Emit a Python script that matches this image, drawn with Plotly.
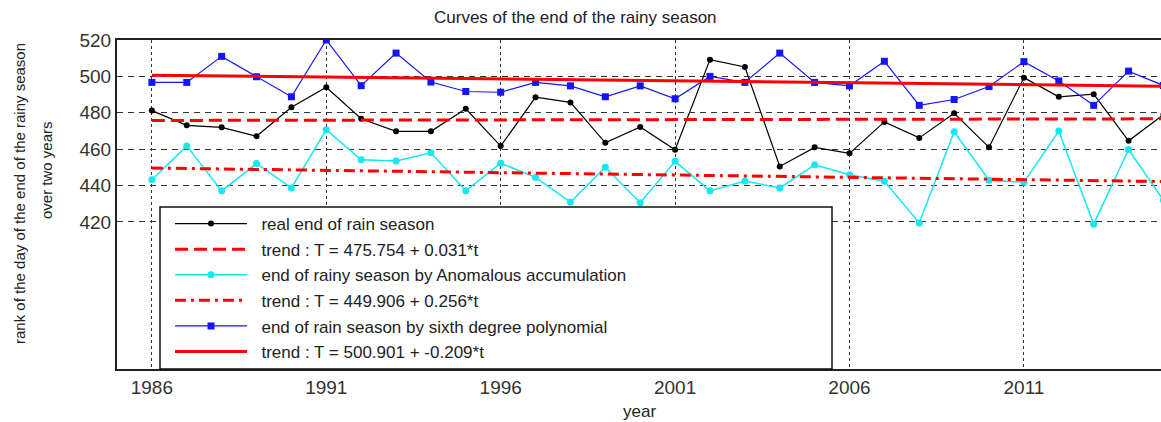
import numpy as np
import plotly.graph_objects as go

# --- data -----------------------------------------------------------------
years = list(range(1986, 2016))

real_end = [481.2, 473.1, 472.0, 467.1, 483.0, 494.0, 476.7, 469.8, 469.8, 482.2,
            461.7, 488.6, 485.7, 463.5, 472.2, 459.7, 509.2, 505.2, 450.5, 461.0,
            457.7, 475.0, 466.2, 479.7, 461.0, 499.3, 488.8, 490.2, 464.6, 479.0]

anomalous_end = [443.2, 461.8, 437.1, 452.1, 438.7, 470.7, 454.2, 453.5, 458.0, 437.1,
                 452.3, 444.5, 430.9, 450.1, 430.6, 453.3, 437.1, 442.5, 438.7, 451.4,
                 446.0, 442.4, 419.5, 469.6, 442.9, 441.8, 470.0, 418.8, 459.8, 432.0]

poly_end = [496.7, 496.7, 511.0, 499.8, 488.8, 520.0, 494.9, 512.8, 496.9, 491.7,
            491.3, 496.7, 494.8, 488.8, 494.8, 487.7, 500.0, 496.7, 512.8, 496.7,
            494.8, 508.3, 484.1, 487.3, 494.4, 508.1, 497.5, 484.1, 502.9, 495.0]

series_names = ["real end of rain season",
                "end of rainy season by Anomalous accumulation",
                "end of rain season by sixth degree polynomial"]

# linear trends T = a + b*t, with t = 1 for the first year
trend_intercept = [475.754, 449.906, 500.901]
trend_slope = [0.031, -0.256, -0.209]
trend_labels = ["trend : T = 475.754 + 0.031*t",
                "trend : T = 449.906 + 0.256*t",
                "trend : T = 500.901 + -0.209*t"]

x_tick_vals = [1986, 1991, 1996, 2001, 2006, 2011]
y_tick_vals = [420, 440, 460, 480, 500, 520]

# --- styling --------------------------------------------------------------
FONT = "Liberation Sans, Arial, sans-serif"
series_colors = ["#000000", "#14E8F0", "#1414FF"]
series_symbols = ["circle", "circle", "square"]
series_msize = [6, 7, 7]
series_lwidth = [1.2, 1.5, 1.2]
trend_dash = ["13px,6px", "11px,5px,3px,5px", "solid"]
LEGEND_PAD = "\u00a0\u00a0"  # small gap between legend sample and text

W, H = 1161, 422
ML, MR, MT, MB = 117, 0, 40, 53
PW, PH = W - ML - MR, H - MT - MB

fig = go.Figure()

t = np.arange(1, len(years) + 1)
for i in range(3):
    fig.add_trace(go.Scatter(
        x=years, y=[real_end, anomalous_end, poly_end][i],
        mode="lines+markers", name=LEGEND_PAD + series_names[i],
        legendgroup=f"s{i}",
        line=dict(color=series_colors[i], width=series_lwidth[i]),
        marker=dict(color=series_colors[i], symbol=series_symbols[i],
                    size=series_msize[i]),
    ))
    trend = trend_intercept[i] + trend_slope[i] * t
    fig.add_trace(go.Scatter(
        x=years, y=trend, mode="lines", name=LEGEND_PAD + trend_labels[i],
        legendgroup=f"t{i}",
        line=dict(color="#FF0000", width=3, dash=trend_dash[i]),
    ))

# legend frame drawn over the plot area
def px_x(p):
    return (p - ML) / PW

def px_y(p):
    return (MT + PH - p) / PH

fig.add_shape(type="rect", xref="paper", yref="paper",
              x0=px_x(160), x1=px_x(832), y0=px_y(369), y1=px_y(207),
              fillcolor="white", line=dict(color="#111111", width=1.5),
              layer="above")

fig.update_layout(
    width=W, height=H,
    margin=dict(l=ML, r=MR, t=MT, b=MB),
    paper_bgcolor="white", plot_bgcolor="white",
    font=dict(family=FONT, color="#222222"),
    showlegend=True,
    legend=dict(x=px_x(170), y=px_y(206), xanchor="left", yanchor="top",
                bgcolor="rgba(0,0,0,0)", borderwidth=0,
                font=dict(family=FONT, size=17, color="#222222"),
                itemwidth=72, traceorder="grouped", tracegroupgap=0.5,
                itemclick=False),
    xaxis=dict(range=[1985.0, 2014.93], tickvals=x_tick_vals,
               showgrid=True, gridcolor="#333333", gridwidth=1.3,
               griddash="3px,3px", zeroline=False,
               showline=True, linecolor="#222222", linewidth=2, mirror=True,
               ticks="", tickfont=dict(family=FONT, size=19, color="#333333")),
    yaxis=dict(range=[339.2, 520], tickvals=y_tick_vals,
               showgrid=True, gridcolor="#333333", gridwidth=1.3,
               griddash="6px,5px", zeroline=False,
               showline=True, linecolor="#222222", linewidth=2, mirror=False,
               ticks="", tickfont=dict(family=FONT, size=19, color="#333333")),
    annotations=[
        dict(text="Curves of the end of the rainy season", xref="paper", yref="paper",
             x=px_x(575), y=px_y(17), xanchor="center", yanchor="middle",
             showarrow=False, font=dict(family=FONT, size=17, color="#222222")),
        dict(text="rank of the day of the end of the rainy season", xref="paper",
             yref="paper", x=0, y=px_y(194), xshift=19 - ML, textangle=-90,
             xanchor="center", yanchor="middle", showarrow=False,
             font=dict(family=FONT, size=15, color="#222222")),
        dict(text="over two years", xref="paper", yref="paper", x=0, y=px_y(170),
             xshift=46 - ML, textangle=-90, xanchor="center", yanchor="middle",
             showarrow=False, font=dict(family=FONT, size=15, color="#222222")),
        dict(text="year", xref="paper", yref="paper", x=0.5, y=px_y(411),
             xanchor="center", yanchor="middle", showarrow=False,
             font=dict(family=FONT, size=17, color="#222222")),
    ],
)

fig.write_html("out.html")
